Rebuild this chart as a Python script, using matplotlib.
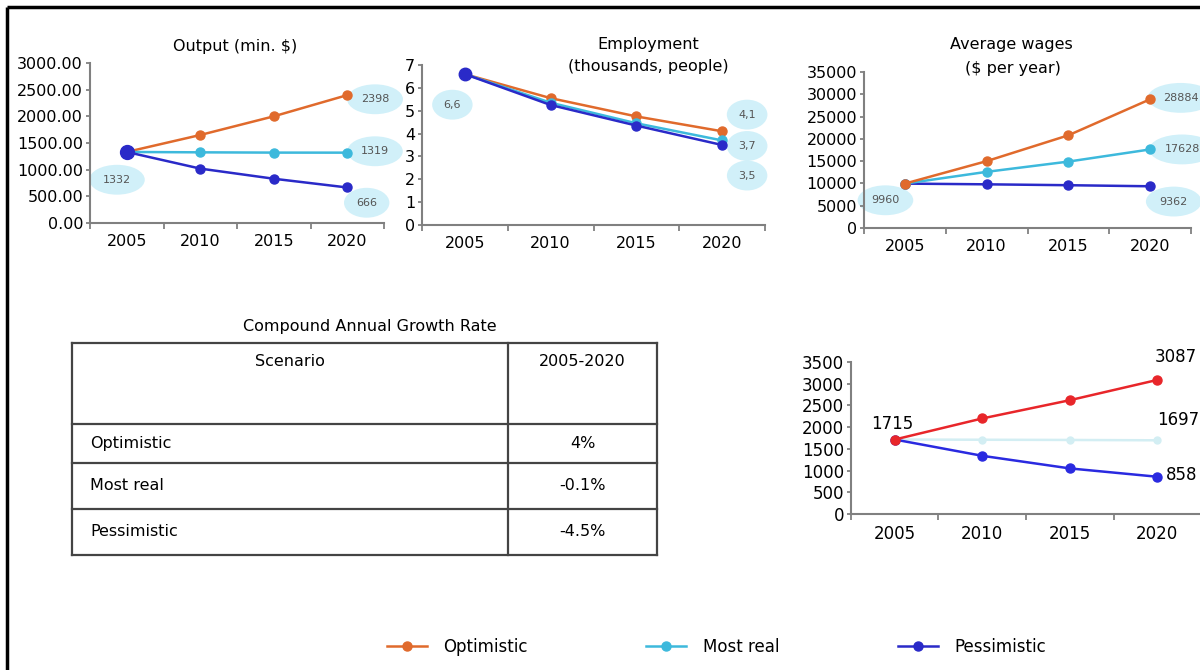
import matplotlib
matplotlib.use("Agg")
import matplotlib.pyplot as plt
from matplotlib.lines import Line2D
from matplotlib.ticker import FixedLocator, FuncFormatter

plt.rcParams['font.family'] = ['DejaVu Sans']

years = ['2005', '2010', '2015', '2020']
scenarios = ['Optimistic', 'Most real', 'Pessimistic']

output_opt = [1332, 1650, 2000, 2398]
output_real = [1332, 1325, 1320, 1319]
output_pess = [1332, 1020, 830, 666]

emp_opt = [6.6, 5.55, 4.75, 4.1]
emp_real = [6.6, 5.35, 4.45, 3.7]
emp_pess = [6.6, 5.25, 4.35, 3.5]

wage_opt = [9960, 15000, 20800, 28884]
wage_real = [9960, 12600, 14900, 17628]
wage_pess = [9960, 9800, 9600, 9362]

br_opt = [1715, 2200, 2620, 3087]
br_real = [1715, 1710, 1705, 1697]
br_pess = [1715, 1340, 1050, 858]

table_title = 'Compound Annual Growth Rate'
table_header = ['Scenario', '2005-2020']
table_rates = ['4%', '-0.1%', '-4.5%']

C_OPT = '#E06A2C'
C_REAL = '#3DB9DC'
C_PESS = '#2A2AC8'
BR_OPT = '#E8262A'
BR_REAL = '#D3EEF3'
BR_PESS = '#2A2AE0'

W, H = 1200, 670
fig = plt.figure(figsize=(W / 100, H / 100), dpi=100)


def px_axes(x0, x1, ytop, ybot):
    return fig.add_axes([x0 / W, (H - ybot) / H, (x1 - x0) / W, (ybot - ytop) / H])


def style_axes(ax, ymax, step, fmt=None, fs=11.5):
    x = list(range(len(years)))
    ax.set_xlim(-0.5, len(years) - 0.5)
    ax.set_ylim(0, ymax)
    ax.set_xticks(x)
    ax.set_xticklabels(years, fontsize=fs)
    ax.xaxis.set_minor_locator(FixedLocator([i + 0.5 for i in range(-1, len(years))]))
    ax.tick_params(axis='x', which='major', length=0, pad=8)
    ax.tick_params(axis='x', which='minor', length=4, color='#777777', width=1.2)
    yt = [i * step for i in range(int(round(ymax / step)) + 1)]
    ax.set_yticks(yt)
    if fmt:
        ax.yaxis.set_major_formatter(FuncFormatter(fmt))
    ax.tick_params(axis='y', length=3, color='#777777', width=1.2, labelsize=fs, pad=2)
    for s in ['top', 'right']:
        ax.spines[s].set_visible(False)
    for s in ['left', 'bottom']:
        ax.spines[s].set_color('#808080')
        ax.spines[s].set_linewidth(1.5)
    ax.patch.set_alpha(0)


def plot_series(ax, vals, color, z, ms=6.5):
    ax.plot(range(len(vals)), vals, color=color, lw=1.8, marker='o', ms=ms,
            mfc=color, mec=color, zorder=z, clip_on=False)


bubble = dict(boxstyle='ellipse,pad=0.5', fc='#C9EEF8', ec='none', alpha=0.85)


def bubble_label(ax, xi, y, text, dx, dy):
    ax.annotate(text, (xi, y), xytext=(dx, dy), textcoords='offset points',
                ha='center', va='center', fontsize=8, color='#555555',
                bbox=bubble, zorder=1, annotation_clip=False)


# ---- Output ----
ax1 = px_axes(90, 384, 63, 223)
style_axes(ax1, 3000, 500, fmt=lambda v, p: f'{v:.2f}')
plot_series(ax1, output_opt, C_OPT, 3)
plot_series(ax1, output_real, C_REAL, 4)
plot_series(ax1, output_pess, C_PESS, 5)
ax1.plot([0], [output_pess[0]], 'o', color=C_PESS, ms=10, zorder=6, clip_on=False)
bubble_label(ax1, 0, output_pess[0], f'{output_pess[0]}', -7, -20)
bubble_label(ax1, 3, output_opt[3], f'{output_opt[3]}', 20, -3)
bubble_label(ax1, 3, output_real[3], f'{output_real[3]}', 20, 1)
bubble_label(ax1, 3, output_pess[3], f'{output_pess[3]}', 14, -11)
fig.text(235 / W, 1 - 46 / H, 'Output (min. $)', ha='center', va='center', fontsize=11.5)

# ---- Employment ----
ax2 = px_axes(422, 765, 65, 225)
style_axes(ax2, 7, 1)
plot_series(ax2, emp_opt, C_OPT, 3)
plot_series(ax2, emp_real, C_REAL, 4)
plot_series(ax2, emp_pess, C_PESS, 5)
ax2.plot([0], [emp_pess[0]], 'o', color=C_PESS, ms=9, zorder=6, clip_on=False)
fmt_c = lambda v: f'{v:.1f}'.replace('.', ',')
bubble_label(ax2, 0, emp_pess[0], fmt_c(emp_pess[0]), -9, -22)
bubble_label(ax2, 3, emp_opt[3], fmt_c(emp_opt[3]), 18, 12)
bubble_label(ax2, 3, emp_real[3], fmt_c(emp_real[3]), 18, -4)
bubble_label(ax2, 3, emp_pess[3], fmt_c(emp_pess[3]), 18, -22)
fig.text(648 / W, 1 - 45 / H, 'Employment', ha='center', va='center', fontsize=11.5)
fig.text(648 / W, 1 - 67 / H, '(thousands, people)', ha='center', va='center', fontsize=11.5)

# ---- Average wages ----
ax3 = px_axes(864, 1191, 72, 228)
style_axes(ax3, 35000, 5000)
plot_series(ax3, wage_pess, C_PESS, 3)
plot_series(ax3, wage_real, C_REAL, 4)
plot_series(ax3, wage_opt, C_OPT, 5)
bubble_label(ax3, 0, wage_opt[0], f'{wage_opt[0]}', -14, -12)
bubble_label(ax3, 3, wage_opt[3], f'{wage_opt[3]}', 22, 1)
bubble_label(ax3, 3, wage_real[3], f'{wage_real[3]}', 23, 0)
bubble_label(ax3, 3, wage_pess[3], f'{wage_pess[3]}', 17, -11)
fig.text(1011 / W, 1 - 45 / H, 'Average wages', ha='center', va='center', fontsize=11.5)
fig.text(1013 / W, 1 - 69 / H, '($ per year)', ha='center', va='center', fontsize=11.5)

# ---- Bottom right ----
ax4 = px_axes(851, 1201, 362, 514)
style_axes(ax4, 3500, 500, fs=12)
plot_series(ax4, br_real, BR_REAL, 3, ms=5)
plot_series(ax4, br_pess, BR_PESS, 4)
plot_series(ax4, br_opt, BR_OPT, 5)
kw = dict(textcoords='offset points', fontsize=12, color='black', annotation_clip=False)
ax4.annotate(f'{br_opt[0]}', (0, br_opt[0]), xytext=(-2, 5), ha='center', va='bottom', **kw)
ax4.annotate(f'{br_opt[3]}', (3, br_opt[3]), xytext=(13, 10), ha='center', va='bottom', **kw)
ax4.annotate(f'{br_real[3]}', (3, br_real[3]), xytext=(15, 8), ha='center', va='bottom', **kw)
ax4.annotate(f'{br_pess[3]}', (3, br_pess[3]), xytext=(6, 1), ha='left', va='center', **kw)

# ---- Overlay: border and table ----
ov = fig.add_axes([0, 0, 1, 1])
ov.set_xlim(0, W)
ov.set_ylim(H, 0)
ov.axis('off')
ov.patch.set_alpha(0)
ov.plot([7, 7], [7, H], color='black', lw=2.5, solid_capstyle='butt')
ov.plot([7, W], [7, 7], color='black', lw=2.5, solid_capstyle='butt')

ov.text(370, 326, table_title, ha='center', va='center', fontsize=11.5)
tx0, tx1, tdiv = 72, 657, 508
ty = [343, 424, 463, 509, 555]
lc = '#444444'
for y in ty:
    ov.plot([tx0, tx1], [y, y], color=lc, lw=1.6)
for x in [tx0, tdiv, tx1]:
    ov.plot([x, x], [ty[0], ty[-1]], color=lc, lw=1.6)
ov.text((tx0 + tdiv) / 2, 362, table_header[0], ha='center', va='center', fontsize=11.5)
ov.text((tdiv + tx1) / 2, 362, table_header[1], ha='center', va='center', fontsize=11.5)
for i, (name, rate) in enumerate(zip(scenarios, table_rates)):
    yc = (ty[i + 1] + ty[i + 2]) / 2
    ov.text(90, yc, name, ha='left', va='center', fontsize=11.5)
    ov.text((tdiv + tx1) / 2, yc, rate, ha='center', va='center', fontsize=11.5)

# ---- Legend ----
handles = [Line2D([0], [0], color=c, lw=1.8, marker='o', ms=6.5) for c in (C_OPT, C_REAL, C_PESS)]
fig.legend(handles, scenarios, loc='center', bbox_to_anchor=(0.597, 1 - 647 / H), ncol=3,
           frameon=False, fontsize=12, handlelength=2.4, handletextpad=1.0, columnspacing=7.1)

fig.savefig('out.png', dpi=100)
